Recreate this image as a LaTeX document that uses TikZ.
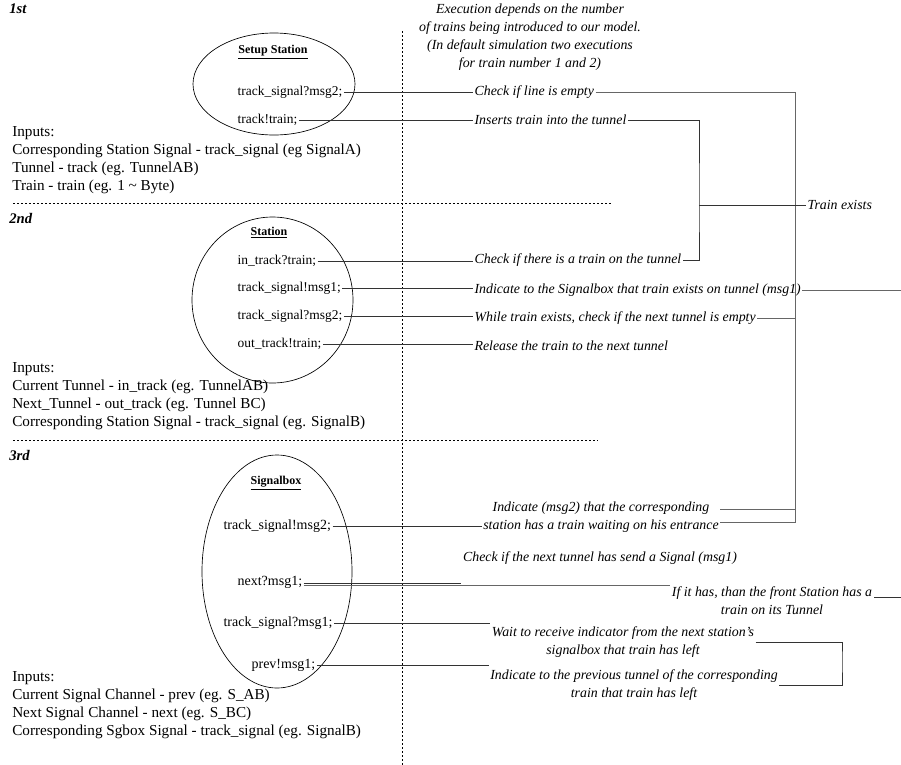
\documentclass[tikz,border=0pt]{standalone}
\usepackage{fontspec}
\setmainfont{Liberation Serif}
\usetikzlibrary{shapes,positioning}

\begin{document}
\begin{tikzpicture}[x=0.75pt,y=-0.75pt,
    proc/.style={ellipse,draw,line width=0.5pt,inner sep=0pt},
    ttl/.style={font=\bfseries\fontsize{9}{11}\selectfont,inner sep=1pt},
    chan/.style={anchor=west,font=\fontsize{10.1}{12}\selectfont,inner sep=1pt},
    bigchan/.style={anchor=west,font=\fontsize{10.5}{13}\selectfont,inner sep=1pt},
    note/.style={font=\itshape\fontsize{10.4}{13.5}\selectfont,inner sep=1pt,align=center},
    inputs/.style={anchor=west,align=left,font=\fontsize{11.4}{13.5}\selectfont,inner sep=0pt},
    part/.style={anchor=west,font=\bfseries\itshape\fontsize{11}{13}\selectfont,inner sep=0pt},
    divider/.style={dash pattern=on 1.5pt off 1.5pt,line width=0.5pt},
    wire/.style={line width=0.6pt,black!80}]
    \useasboundingbox (0,0) rectangle (901,765);

    % separators
    \draw[divider] (402,31) -- (402,765);
    \draw[divider] (13,203) -- (612,203);
    \draw[divider] (13,440) -- (598,440);

    \node[part] (first) at (9,9) {1st};
    \node[part] (second) at (9,218) {2nd};
    \node[part] (third) at (9,455) {3rd};
    \node[note] (exec) at (530,37) {Execution depends on the number\\of trains being introduced to our model.\\(In default simulation two executions\\for train number 1 and 2)};

    % 1st: setup station
    \node[proc,minimum width=121.5pt,minimum height=76.5pt] (setup) at (274,84) {};
    \node[ttl] (setupttl) at (273,52) {\underline{Setup Station}};
    \node[chan] (su1) at (236,92) {track\_signal?msg2;};
    \node[chan] (su2) at (236,120) {track!train;};
    \node[inputs] (in1) at (12,160) {Inputs:\\Corresponding Station Signal - track\_signal (eg SignalA)\\Tunnel - track (eg. TunnelAB)\\Train - train (eg. 1 \textasciitilde{} Byte)};

    \node[note,anchor=west] (empty) at (473,92) {Check if line is empty};
    \node[note,anchor=west] (inserts) at (473,120) {Inserts train into the tunnel};
    \node[note,anchor=west] (exists) at (806,205) {Train exists};

    % 2nd: station
    \node[proc,minimum width=120.75pt,minimum height=124.5pt] (station) at (272.5,300) {};
    \node[ttl] (stationttl) at (269,233) {\underline{Station}};
    \node[chan] (st1) at (236,261) {in\_track?train;};
    \node[chan] (st2) at (236,288) {track\_signal!msg1;};
    \node[chan] (st3) at (236,316) {track\_signal?msg2;};
    \node[chan] (st4) at (236,344) {out\_track!train;};
    \node[inputs] (in2) at (12,396) {Inputs:\\Current Tunnel - in\_track (eg. TunnelAB)\\Next\_Tunnel - out\_track (eg. Tunnel BC)\\Corresponding Station Signal - track\_signal (eg. SignalB)};

    \node[note,anchor=west] (chk) at (473,260) {Check if there is a train on the tunnel};
    \node[note,anchor=west] (ind) at (473,290) {Indicate to the Signalbox that train exists on tunnel (msg1)};
    \node[note,anchor=west] (whilee) at (473,318) {While train exists, check if the next tunnel is empty};
    \node[note,anchor=west] (rel) at (473,346) {Release the train to the next tunnel};

    % 3rd: signalbox
    \node[proc,minimum width=112.5pt,minimum height=174.75pt] (sgbox) at (277,571.5) {};
    \node[ttl] (sgboxttl) at (276,483) {\underline{Signalbox}};
    \node[bigchan] (sb1) at (222,526) {track\_signal!msg2;};
    \node[bigchan] (sb2) at (236,582) {next?msg1;};
    \node[bigchan] (sb3) at (222,623) {track\_signal?msg1;};
    \node[bigchan] (sb4) at (250,665) {prev!msg1;};
    \node[inputs] (in3) at (12,705) {Inputs:\\Current Signal Channel - prev (eg. S\_AB)\\Next Signal Channel - next (eg. S\_BC)\\Corresponding Sgbox Signal - track\_signal (eg. SignalB)};

    \node[note] (msg2) at (601,517) {Indicate (msg2) that the corresponding\\station has a train waiting on his entrance};
    \node[note] (chknext) at (600,558) {Check if the next tunnel has send a Signal (msg1)};
    \node[note] (ifhas) at (772,601) {If it has, than the front Station has a\\train on its Tunnel};
    \node[note] (wait) at (623,642) {Wait to receive indicator from the next station's\\signalbox that train has left};
    \node[note] (prevn) at (634,685) {Indicate to the previous tunnel of the corresponding\\train that train has left};

    \coordinate (rt) at (795,522);
    \coordinate (rtup) at (795,509);
    \coordinate (lft) at (699,205);
    \coordinate (outr) at (901,290);
    \coordinate (ifr) at (901,597);
    \coordinate (brk) at (842,660);

    \draw[wire] (su1.east) -- (su1.east -| empty.west);
    \draw[wire] (su2.east) -- (su2.east -| inserts.west);
    \draw[wire,black!60] (empty.east) -| (rt) -- (rt -| msg2.east);
    \draw[wire,black!60] (rtup) -- (rtup -| msg2.east);
    \draw[wire] (inserts.east) -| (lft) |- (chk.east);
    \draw[wire] (lft) -- (exists.west);

    \draw[wire] (st1.east) -- (st1.east -| chk.west);
    \draw[wire] (st2.east) -- (st2.east -| ind.west);
    \draw[wire] (st3.east) -- (st3.east -| whilee.west);
    \draw[wire] (st4.east) -- (st4.east -| rel.west);
    \draw[wire,black!60] (ind.east) -- (ind.east -| outr);
    \draw[wire,black!60] (whilee.east) -- (whilee.east -| rt);

    \draw[wire] (sb1.east) -- (sb1.east -| msg2.west);
    \draw[wire] ([yshift=-1pt]sb2.east) -- ([yshift=-1pt]sb2.east -| chknext.west);
    \draw[wire,black!60] ([yshift=-2.5pt]sb2.east) -- ([yshift=-2.5pt]sb2.east -| ifhas.west);
    \draw[wire] (ifr) -- (ifr -| ifhas.east);
    \draw[wire] (sb3.east) -- (sb3.east -| wait.west);
    \draw[wire] (sb4.east) -- (sb4.east -| prevn.west);
    \draw[wire] (wait.east) -| (brk) |- (prevn.east);
\end{tikzpicture}
\end{document}
